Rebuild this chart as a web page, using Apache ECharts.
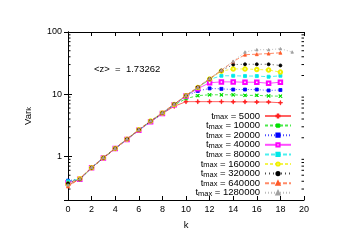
<!DOCTYPE html>
<html><head><meta charset="utf-8">
<script src="https://cdn.jsdelivr.net/npm/echarts@6/dist/echarts.min.js"></script>
<style>html,body{margin:0;padding:0;background:#fff}#c{width:351px;height:248px}</style>
</head><body><div id="c"></div>
<script>
const xTicks = [0,2,4,6,8,10,12,14,16,18,20];
const yMajorLabels = [1, 10, 100];
const yMinorTicks = [0.3,0.4,0.5,0.6,0.7,0.8,0.9,2,3,4,5,6,7,8,9,20,30,40,50,60,70,80,90];
const seriesNames = ['5000','10000','20000','40000','80000','160000','320000','640000','1280000'];
const t5000    = [0.34,0.44,0.66,0.95,1.34,1.88,2.65,3.65,4.9,6.4,7.6,7.6,7.6,7.6,7.55,7.55,7.5,7.5,7.3];
const t10000   = [0.40,0.43,0.66,0.95,1.35,1.9,2.68,3.7,4.95,6.7,8.5,9.5,9.8,9.8,9.8,9.6,9.6,9.4,9.3];
const t20000   = [0.41,0.43,0.66,0.95,1.34,1.88,2.64,3.6,4.85,6.7,9.2,11.3,12.4,12.2,11.9,11.9,11.9,11.5,11.7];
const t40000   = [0.38,0.43,0.66,0.95,1.34,1.88,2.64,3.6,4.9,6.8,9.4,12.3,15.3,15.8,15.8,15.6,15.6,15.0,15.6];
const t80000   = [0.40,0.43,0.66,0.95,1.35,1.9,2.66,3.65,4.95,6.85,9.4,12.7,17.3,19.8,19.8,19.6,19.6,19.1,19.8];
const t160000  = [0.36,0.44,0.66,0.95,1.35,1.9,2.68,3.7,5.0,6.85,9.5,12.8,17.5,23.5,25.5,25.5,25.0,24.5,22.7];
const t320000  = [0.37,0.43,0.66,0.95,1.35,1.9,2.68,3.7,5.0,6.9,9.5,12.9,17.6,24.0,30.0,30.3,30.3,30.3,29.0];
const t640000  = [0.33,0.44,0.67,0.96,1.36,1.92,2.7,3.75,5.05,6.95,9.6,13.0,17.8,24.3,33.5,43.2,44,45,46.4];
const t1280000 = [0.35,0.44,0.67,0.96,1.36,1.92,2.7,3.75,5.05,6.95,9.6,13.0,17.9,24.5,34,47.7,51.9,51.9,53.9,47.7];
const annotation = '<z>  =  1.73262';

const values = [t5000,t10000,t20000,t40000,t80000,t160000,t320000,t640000,t1280000];
const colors = ['#ff2020','#00e000','#0000ff','#ff00ff','#00e8e8','#f0f000','#000000','#ff5a28','#a0a0a0'];
const dashes = ['solid',[3,2],[1,2],'solid',[4,2],[3,2],[1,3],[4,2],[1,2]];
const plusPath = 'path://M4.3,0H5.7V10H4.3ZM0,4.3H10V5.7H0Z';
const symbols = [plusPath, plusPath, 'rect','emptyRect','rect','emptyCircle','circle','triangle','triangle'];
const symRot = [0,45,0,0,0,0,0,0,0];
const symSize = [4,4,3,3.5,3,3.5,3,3,2.5];

const FONT = 'Liberation Sans, Arial, sans-serif';
const chart = echarts.init(document.getElementById('c'), null, {renderer:'canvas'});

const lineSeries = seriesNames.map((n, i) => ({
  name: '{a|t}{s|max}{a| = ' + n + '}',
  type: 'line',
  xAxisIndex: 0, yAxisIndex: 0,
  data: values[i].map((v, k) => [k, v]),
  symbol: symbols[i],
  symbolRotate: symRot[i],
  symbolSize: symSize[i],
  showAllSymbol: true,
  itemStyle: {color: colors[i], borderColor: colors[i], borderWidth: 0.8},
  lineStyle: {color: colors[i], width: 1, type: dashes[i], opacity: 0.7},
  emphasis: {disabled: true},
  animation: false,
  z: 3 + i
}));

const minorSeries = {
  type: 'custom',
  xAxisIndex: 0, yAxisIndex: 0,
  silent: true,
  animation: false,
  clip: false,
  data: yMinorTicks.map(v => [0, v]),
  renderItem: function (params, api) {
    const l = api.coord([0, api.value(1)]);
    const r = api.coord([20, api.value(1)]);
    return {type: 'group', children: [
      {type: 'line', shape: {x1: l[0], y1: l[1], x2: l[0] + 2.5, y2: l[1]}, style: {stroke: '#000', lineWidth: 1}},
      {type: 'line', shape: {x1: r[0], y1: r[1], x2: r[0] - 2.5, y2: r[1]}, style: {stroke: '#000', lineWidth: 1}}
    ]};
  }
};

const axisLine = {show: true, lineStyle: {color: '#000', width: 1}};
const richLeg = {
  a: {fontSize: 9.5, fontFamily: FONT, color: '#000', lineHeight: 10},
  s: {fontSize: 7.5, fontFamily: FONT, color: '#000', verticalAlign: 'bottom', lineHeight: 3}
};

chart.setOption({
  animation: false,
  backgroundColor: '#fff',
  grid: {left: 68, right: 47, top: 32, bottom: 48, containLabel: false},
  xAxis: [{
    type: 'value', min: 0, max: 20, interval: 2,
    axisLine: axisLine,
    axisTick: {show: true, inside: true, length: 4, lineStyle: {color: '#000'}},
    axisLabel: {fontSize: 9, fontFamily: FONT, color: '#000', margin: 5},
    splitLine: {show: false},
    name: 'k', nameLocation: 'middle', nameGap: 20,
    nameTextStyle: {fontSize: 9.5, fontFamily: FONT, color: '#000'}
  }, {
    type: 'value', min: 0, max: 20, interval: 2, position: 'top',
    axisLine: axisLine,
    axisTick: {show: true, inside: true, length: 4, lineStyle: {color: '#000'}},
    axisLabel: {show: false}, splitLine: {show: false}
  }],
  yAxis: [{
    type: 'log', logBase: 10, min: 0.2, max: 100,
    axisLine: axisLine,
    axisTick: {show: true, inside: true, length: 4, lineStyle: {color: '#000'}},
    axisLabel: {fontSize: 9, fontFamily: FONT, color: '#000', margin: 6,
      formatter: v => (yMajorLabels.some(m => Math.abs(m - v) < 1e-6) ? String(Math.round(v)) : '')},
    splitLine: {show: false},
    name: '{a|Var}{s|k}', nameLocation: 'middle', nameGap: 35, nameRotate: 90,
    nameTextStyle: {fontSize: 9.5, fontFamily: FONT, color: '#000', rich: richLeg}
  }, {
    type: 'log', logBase: 10, min: 0.2, max: 100, position: 'right',
    axisLine: axisLine,
    axisTick: {show: true, inside: true, length: 4, lineStyle: {color: '#000'}},
    axisLabel: {show: false}, splitLine: {show: false}
  }],
  legend: {
    orient: 'vertical',
    right: 59, top: 111,
    align: 'right',
    itemWidth: 26, itemHeight: 4, itemGap: -0.4,
    padding: 0,
    selectedMode: false,
    textStyle: {fontSize: 9.5, fontFamily: FONT, color: '#000', lineHeight: 10, rich: richLeg},
    data: lineSeries.map(s => s.name)
  },
  graphic: [{
    type: 'text', left: 94, top: 64,
    style: {text: annotation, fontSize: 9.5, fontFamily: FONT, fill: '#000'}
  }],
  series: [minorSeries].concat(lineSeries)
});
</script>
</body></html>
